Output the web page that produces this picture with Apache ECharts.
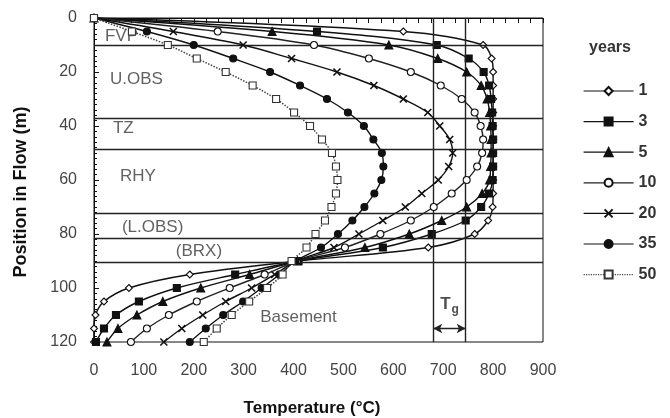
<!DOCTYPE html>
<html>
<head>
<meta charset="utf-8">
<script src="https://cdn.jsdelivr.net/npm/echarts@6/dist/echarts.min.js"></script>
<style>
html,body{margin:0;padding:0;background:#fff;}
#c{width:670px;height:418px;}
</style>
</head>
<body>
<div id="c"></div>
<script>
// Depth (m) of each plotted point
const depths = [0,5,10,15,20,25,30,35,40,45,50,55,60,65,70,75,80,85,90,95,100,105,110,115,120];
// Temperature (°C) per series (years)
const yr1  = [0,620,780,797,800,800,800,800,800,800,800,800,800,800,799,790,763,670,410,192,70,20,3,0,0];
const yr3  = [0,447,687,751,781,792,796,798,799,800,800,800,799,792,776,745,677,579,410,283,166,90,44,20,4];
const yr5  = [0,357,591,689,747,776,788,793,795,796,796,795,793,778,747,697,632,543,408,312,214,138,86,48,26];
const yr10 = [0,248,441,551,635,695,737,763,775,780,778,768,747,717,681,635,574,503,407,342,272,206,150,106,74];
const yr20 = [0,159,299,396,487,561,620,669,693,713,719,711,690,657,624,579,531,481,406,362,316,264,218,176,140];
const yr35 = [0,106,200,279,353,413,467,509,541,560,577,580,576,562,542,518,489,455,404,372,336,299,259,224,192];
const yr50 = [0,76,148,206,264,318,365,401,433,457,477,485,488,485,476,463,444,426,396,378,347,311,276,246,220];
const seriesNames = ['1','3','5','10','20','35','50'];
const seriesValues = [yr1, yr3, yr5, yr10, yr20, yr35, yr50];

// Axis ticks
const xTicks = [0,100,200,300,400,500,600,700,800,900];
const yTicks = [0,20,40,60,80,100,120];

// Unit boundaries (depth, m) and Tg limits (°C)
const boundaries = [10, 37, 48.5, 72.3, 81.5, 90.5];
const tgLimits = [680, 745];
const tgArrowDepth = 115;

// Zone labels: [temperature, depth] anchors and texts
const zoneNames = ['FVP','U.OBS','TZ','RHY','(L.OBS)','(BRX)','Basement'];
const zoneAnchors = [[22,6.6],[32,22.6],[38,41],[52,58.5],[56,77.4],[164,86.3],[333,110.7]];
const tgAnchor = [694,106];

const FONT = "'Liberation Sans', Arial, sans-serif";
const INK = '#111';

const symbols = ['diamond','rect','triangle','circle','path://M0,0L10,10M10,0L0,10','circle','rect'];
const symSizes = [7,7,8,7,7,7,7];
const fills = ['#fff',INK,INK,'#fff','none',INK,'#fff'];
const lineTypes = ['solid','solid','solid','solid','solid','solid','dotted'];
const lineColors = [INK,INK,INK,'#222',INK,INK,'#444'];

const series = seriesNames.map((name, i) => ({
  name: name,
  type: 'line',
  data: depths.map((d, k) => [seriesValues[i][k], d]),
  smooth: 0.35,
  symbol: symbols[i],
  symbolSize: symSizes[i],
  symbolKeepAspect: true,
  showAllSymbol: true,
  lineStyle: {color: lineColors[i], width: i === 6 ? 1.5 : 1.4, type: lineTypes[i]},
  itemStyle: {color: fills[i], borderColor: i === 6 ? '#333' : INK, borderWidth: i === 4 ? 1.6 : 1.1},
  emphasis: {disabled: true},
  z: 3 + i
}));

// annotation helper series (lines, arrow, texts)
series.push({
  name: 'annot',
  type: 'scatter',
  symbolSize: 0,
  silent: true,
  data: zoneAnchors.map((p, i) => ({value: [p[0], p[1]], label: {formatter: zoneNames[i]}})).concat([
    {value: tgAnchor, label: {formatter: '{t|T}{g|g}', align: 'left'}}
  ]),
  label: {
    show: true, position: 'inside', align: 'left', verticalAlign: 'middle',
    color: '#3a3a3a', fontSize: 17, fontFamily: FONT,
    rich: {
      t: {fontSize: 17, fontWeight: 'bold', color: '#222', fontFamily: FONT},
      g: {fontSize: 12, fontWeight: 'bold', color: '#222', fontFamily: FONT, padding: [10, 0, 0, 1]}
    }
  },
  markLine: {
    silent: true,
    symbol: ['none','none'],
    animation: false,
    label: {show: false},
    lineStyle: {color: '#222', width: 1.4, type: 'solid'},
    data: boundaries.map(v => ({yAxis: v}))
      .concat(tgLimits.map(v => ({xAxis: v})))
      .concat([[
        {coord: [tgLimits[0], tgArrowDepth], symbol: 'arrow', symbolSize: [7, 9]},
        {coord: [tgLimits[1], tgArrowDepth], symbol: 'arrow', symbolSize: [7, 9]}
      ]])
  },
  z: 2
});

const chart = echarts.init(document.getElementById('c'), null, {renderer: 'canvas'});
chart.setOption({
  animation: false,
  backgroundColor: '#fff',
  grid: {left: 94, right: 127, top: 18, bottom: 76, show: true, borderColor: INK, borderWidth: 1, backgroundColor: 'transparent'},
  xAxis: {
    type: 'value', min: xTicks[0], max: xTicks[xTicks.length - 1], interval: xTicks[1] - xTicks[0],
    axisLine: {show: true, lineStyle: {color: INK, width: 1}},
    axisTick: {show: true, length: 5, lineStyle: {color: INK}},
    minorTick: {show: true, splitNumber: 4, length: 5, lineStyle: {color: INK}},
    splitLine: {show: false},
    axisLabel: {color: '#444', fontSize: 16, fontFamily: FONT, margin: 21}
  },
  yAxis: {
    type: 'value', inverse: true, min: yTicks[0], max: yTicks[yTicks.length - 1], interval: yTicks[1] - yTicks[0],
    axisLine: {show: true, lineStyle: {color: INK, width: 1}},
    axisTick: {show: true, inside: true, length: 5, lineStyle: {color: INK}},
    minorTick: {show: true, splitNumber: 10, length: 3, lineStyle: {color: INK}},
    splitLine: {show: false},
    axisLabel: {color: '#444', fontSize: 16, fontFamily: FONT, margin: 17}
  },
  legend: {
    data: seriesNames,
    orient: 'vertical',
    left: 578, top: 78,
    itemWidth: 50, itemHeight: 10, itemGap: 14.6,
    lineStyle: {width: 1.2},
    textStyle: {color: '#333', fontSize: 16, fontWeight: 'bold', fontFamily: FONT},
    selectedMode: false
  },
  graphic: [
    {type: 'text', x: 610, y: 48, style: {text: 'years', fill: '#333', font: 'bold 16px ' + FONT, textAlign: 'center', textVerticalAlign: 'middle'}},
    {type: 'text', x: 312, y: 408, style: {text: 'Temperature (°C)', fill: '#111', font: 'bold 17px ' + FONT, textAlign: 'center', textVerticalAlign: 'middle'}},
    {type: 'text', x: 21, y: 192, rotation: Math.PI / 2, style: {text: 'Position in Flow (m)', fill: '#111', font: 'bold 18px ' + FONT, textAlign: 'center', textVerticalAlign: 'middle'}}
  ],
  series: series
});
</script>
</body>
</html>
